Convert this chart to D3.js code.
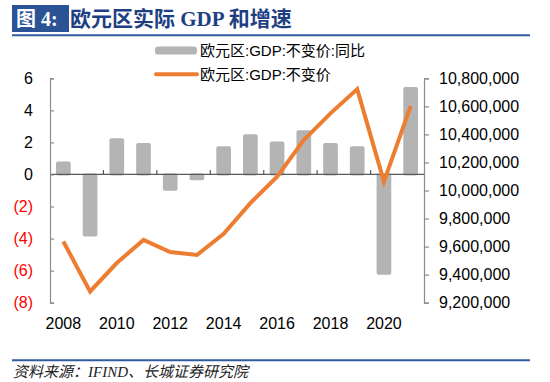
<!DOCTYPE html>
<html><head><meta charset="utf-8">
<script src="https://cdn.jsdelivr.net/npm/d3@7"></script>
<style>html,body{margin:0;padding:0;background:#fff}svg{display:block}</style>
</head><body>
<script>
const years = [2008,2009,2010,2011,2012,2013,2014,2015,2016,2017,2018,2019,2020,2021];
const growth = [0.75,-3.8,2.2,1.9,-0.95,-0.3,1.7,2.45,2.0,2.7,1.9,1.7,-6.2,5.4];
const gdp = [9636000,9280000,9483000,9648000,9561000,9540000,9691000,9910000,10099000,10360000,10550000,10723000,10063000,10602000];
const leftTicks = [6,4,2,0,-2,-4,-6,-8];
const rightTicks = [9200000,9400000,9600000,9800000,10000000,10200000,10400000,10600000,10800000];
const xLabels = [2008,2010,2012,2014,2016,2018,2020];
const seriesNames = ["欧元区:GDP:不变价:同比","欧元区:GDP:不变价"];

const W=550,H=382;
const svg=d3.select("body").append("svg").attr("width",W).attr("height",H);
const L=50,R=424,T=78.3,B=302.7;
const x=d3.scaleBand().domain(years).range([L,R]).paddingInner(0.45).paddingOuter(0.225);
const xc=d3.scaleBand().domain(years).range([L,R]);
const yL=d3.scaleLinear().domain([-8,6]).range([B,T]);
const yR=d3.scaleLinear().domain([9200000,10800000]).range([B,T]);

// Title
svg.append("rect").attr("x",12).attr("y",5).attr("width",57).attr("height",27).attr("fill","#2A5294");
svg.append("text").attr("x",16).attr("y",26).attr("fill","#fff").attr("font-family","'Liberation Serif','Noto Sans CJK SC'").attr("font-weight","bold").attr("font-size",20).text("图 4:");
svg.append("text").attr("x",70).attr("y",26).attr("fill","#1F3F84").attr("font-family","'Liberation Serif','Noto Sans CJK SC'").attr("font-weight","bold").attr("font-size",21).text("欧元区实际 GDP 和增速");
svg.append("line").attr("x1",12).attr("x2",530).attr("y1",35.3).attr("y2",35.3).attr("stroke","#2E5C9E").attr("stroke-width",2);

// Bars
svg.append("g").selectAll("rect").data(years).join("rect")
 .attr("x",d=>x(d)).attr("width",x.bandwidth())
 .attr("y",(d,i)=>Math.min(yL(growth[i]),yL(0))-1)
 .attr("height",(d,i)=>Math.abs(yL(growth[i])-yL(0))+2)
 .attr("rx",2).attr("fill","#B4B4B4");

// zero axis
const xAxis=d3.axisTop(xc).tickValues([]).tickSizeOuter(0);
const gx=svg.append("g").attr("transform",`translate(0,${yL(0)})`);
gx.append("line").attr("x1",L).attr("x2",R).attr("stroke","#595959").attr("stroke-width",1.3);
gx.selectAll(".tk").data(years.filter((d,i)=>i%2==1 && i<years.length-1)).join("line")
 .attr("x1",d=>xc(d)+xc.bandwidth()).attr("x2",d=>xc(d)+xc.bandwidth()).attr("y1",0).attr("y2",-4.5)
 .attr("stroke","#595959").attr("stroke-width",1.2);

// left axis
const ga=svg.append("g").attr("transform",`translate(${L},0)`)
 .call(d3.axisRight(yL).tickValues(leftTicks).tickSize(4).tickFormat(""));
ga.selectAll("path,line").attr("stroke","#8C8C8C").attr("stroke-width",1.2);
svg.append("g").selectAll("text").data(leftTicks).join("text")
 .attr("x",33).attr("y",d=>yL(d)).attr("dy","0.36em").attr("text-anchor","end")
 .attr("font-family","'Liberation Sans',Arial").attr("font-size",16)
 .attr("fill",d=>d<0?"#FF0000":"#000")
 .text(d=>d<0?`(${-d})`:d);

// right axis
const gr=svg.append("g").attr("transform",`translate(${R},0)`)
 .call(d3.axisRight(yR).tickValues(rightTicks).tickSize(5).tickFormat(""));
gr.selectAll("path,line").attr("stroke","#8C8C8C").attr("stroke-width",1.2);
svg.append("g").selectAll("text").data(rightTicks).join("text")
 .attr("x",439).attr("y",d=>yR(d)).attr("dy","0.36em")
 .attr("font-family","'Liberation Sans',Arial").attr("font-size",16).attr("fill","#000")
 .text(d=>d3.format(",")(d));

// x labels
svg.append("g").selectAll("text").data(xLabels).join("text")
 .attr("x",d=>xc(d)+xc.bandwidth()/2).attr("y",329).attr("text-anchor","middle")
 .attr("font-family","'Liberation Sans',Arial").attr("font-size",16).attr("fill","#000").text(d=>d);

// line
const line=d3.line().x((d,i)=>xc(years[i])+xc.bandwidth()/2).y(d=>yR(d));
svg.append("path").datum(gdp).attr("d",line).attr("fill","none").attr("stroke","#ED7D31").attr("stroke-width",4).attr("stroke-linejoin","miter");

// legend
const lg=svg.append("g");
lg.append("rect").attr("x",155).attr("y",46.5).attr("width",42).attr("height",8).attr("rx",3).attr("fill","#B4B4B4");
lg.append("line").attr("x1",156).attr("x2",197).attr("y1",74.3).attr("y2",74.3).attr("stroke","#ED7D31").attr("stroke-width",4).attr("stroke-linecap","round");
lg.selectAll("text").data(seriesNames).join("text")
 .attr("x",200).attr("y",(d,i)=>50.7+i*23.6).attr("dy","0.36em")
 .attr("font-family","'Liberation Sans','Noto Sans CJK SC'").attr("font-size",15).attr("fill","#000").text(d=>d);

// footer
svg.append("line").attr("x1",12).attr("x2",530).attr("y1",360.3).attr("y2",360.3).attr("stroke","#2E5C9E").attr("stroke-width",2);
svg.append("text").attr("x",13).attr("y",377).attr("font-family","'Liberation Serif','Noto Sans CJK SC'").attr("font-style","italic").attr("font-size",15).attr("fill","#222").text("资料来源：IFIND、长城证券研究院");
</script>
</body></html>
